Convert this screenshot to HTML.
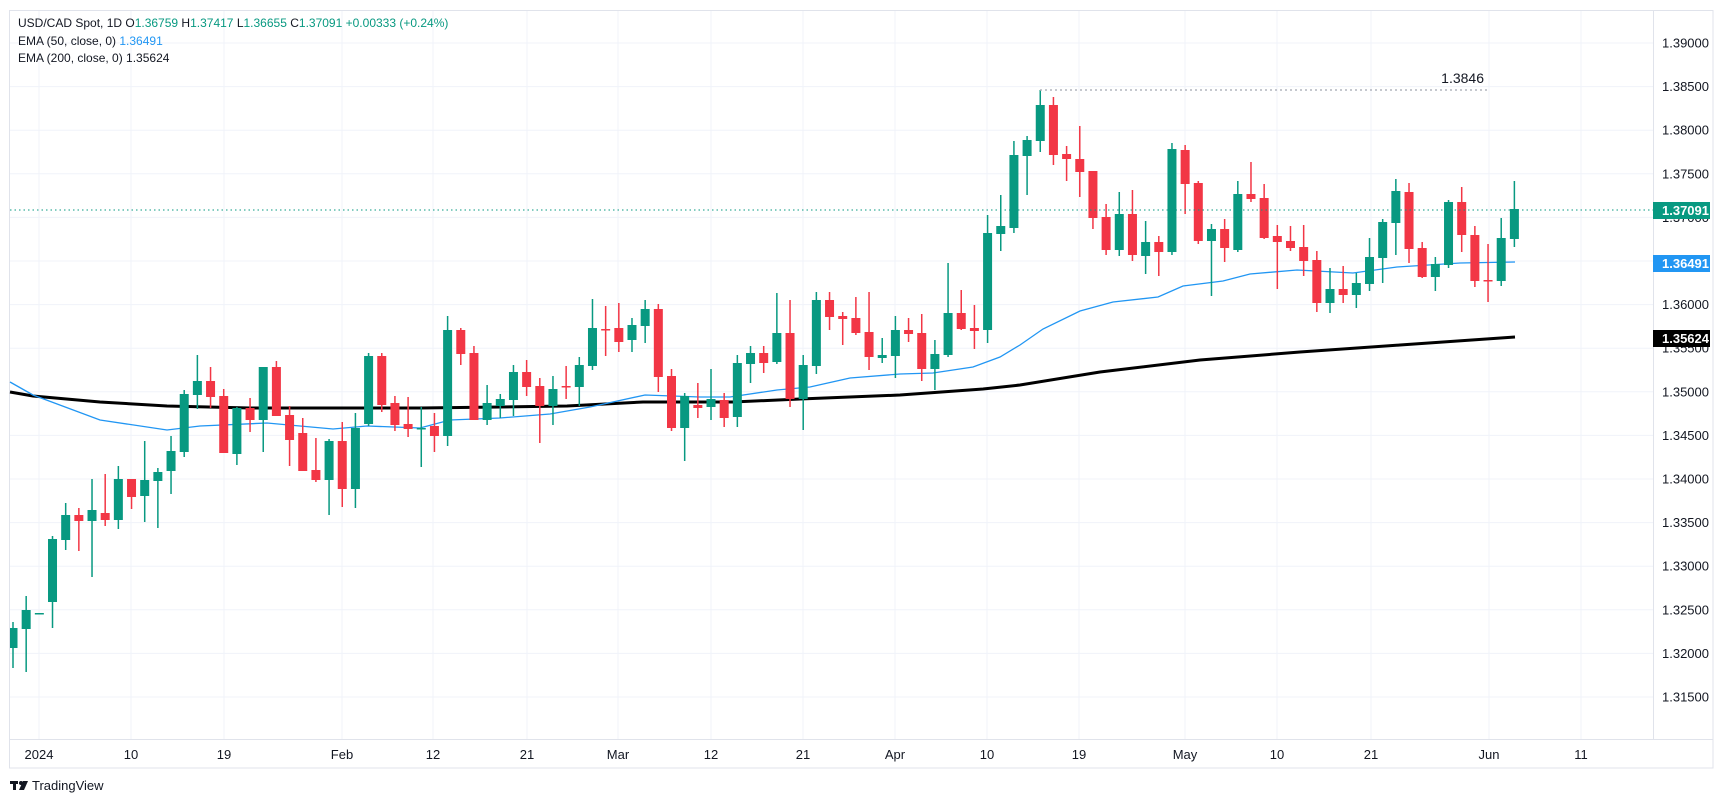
<!DOCTYPE html>
<html><head><meta charset="utf-8"><style>
html,body{margin:0;padding:0;background:#fff;width:1723px;height:801px;overflow:hidden}
svg text{font-family:"Liberation Sans",sans-serif}
</style></head><body>
<svg id="s" width="1723" height="801" xmlns="http://www.w3.org/2000/svg">
<rect x="0" y="0" width="1723" height="801" fill="#fff"/>
<g id="grid"></g>
<rect x="9.5" y="10.5" width="1703.5" height="757.5" fill="none" stroke="#e0e3eb" stroke-width="1"/>
<line x1="9.5" y1="739.5" x2="1713" y2="739.5" stroke="#e0e3eb"/>
<line x1="1653.5" y1="10" x2="1653.5" y2="740" stroke="#e0e3eb"/>
<polyline fill="none" stroke="#000" stroke-width="3" points="10,392 33,396 100,402 167,406 250,408 333,408 420,408 500,407 567,406 643,402 733,402 800,399 900,395 983,389 1020,385 1100,372 1200,360 1300,352 1400,345 1515,337"/>
<polyline fill="none" stroke="#2196f3" stroke-width="1.3" points="10,382 33,395 100,420 167,430 200,426 267,423 333,429 367,426 420,428 450,420 500,418 550,414 590,407 645,395 700,397 730,397 777,390 810,387 850,378 900,374 933,373 973,367 1000,357 1020,345 1043,329 1080,311 1113,302 1158,297 1183,286 1223,281 1250,274 1297,270 1353,273 1397,267 1460,263 1515,262"/>
<g id="c"></g>
<line x1="10" y1="210" x2="1653" y2="210" stroke="#089981" stroke-width="1" stroke-dasharray="1.5,3"/>
<line x1="1040" y1="90" x2="1487" y2="90" stroke="#b2b5be" stroke-width="1.5" stroke-dasharray="2,3"/>
<text x="1484" y="83" font-size="14" fill="#131722" text-anchor="end">1.3846</text>
<g id="ax" font-size="13" fill="#131722"></g>
<rect x="1653" y="202" width="57" height="17" fill="#089981"/>
<text x="1662" y="215" font-size="13" fill="#fff" font-weight="bold">1.37091</text>
<rect x="1653" y="255" width="57" height="17" fill="#2196f3"/>
<text x="1662" y="268" font-size="13" fill="#fff" font-weight="bold">1.36491</text>
<rect x="1653" y="330" width="57" height="17" fill="#000"/>
<text x="1662" y="343" font-size="13" fill="#fff" font-weight="bold">1.35624</text>
<text x="18" y="27" font-size="12" fill="#131722">USD/CAD Spot, 1D  O<tspan fill="#089981">1.36759</tspan>  H<tspan fill="#089981">1.37417</tspan>  L<tspan fill="#089981">1.36655</tspan>  C<tspan fill="#089981">1.37091</tspan>  <tspan fill="#089981">+0.00333 (+0.24%)</tspan></text>
<text x="18" y="45" font-size="12" fill="#131722">EMA (50, close, 0)  <tspan fill="#2196f3">1.36491</tspan></text>
<text x="18" y="62" font-size="12" fill="#131722">EMA (200, close, 0)  1.35624</text>
<g fill="#131722"><rect x="10" y="781" width="8" height="3"/><rect x="13" y="781" width="3" height="9"/><circle cx="21" cy="783" r="2"/><polygon points="23,781 28,781 24,790 19,790"/></g>
<text x="32" y="790" font-size="13" fill="#131722">TradingView</text>
</svg>
<script>
var NS="http://www.w3.org/2000/svg";
function el(p,t,a){var e=document.createElementNS(NS,t);for(var k in a)e.setAttribute(k,a[k]);p.appendChild(e);return e;}
var grid=document.getElementById('grid'),ax=document.getElementById('ax');
for(var k=0;k<=15;k++){var y=43+k*43.6;el(grid,'line',{x1:10,x2:1653,y1:y,y2:y,stroke:'#f0f3fa','stroke-width':1});
var p=(1.39-k*0.005).toFixed(5);var t=el(ax,'text',{x:1662,y:y+4.5});t.textContent=p;}
var vx=[[39,'2024'],[131,'10'],[224,'19'],[342,'Feb'],[433,'12'],[527,'21'],[618,'Mar'],[711,'12'],[803,'21'],[895,'Apr'],[987,'10'],[1079,'19'],[1185,'May'],[1277,'10'],[1371,'21'],[1489,'Jun'],[1581,'11']];
vx.forEach(function(v){el(grid,'line',{x1:v[0],x2:v[0],y1:10,y2:739,stroke:'#f0f3fa','stroke-width':1});
var t=el(ax,'text',{x:v[0],y:759,'text-anchor':'middle'});t.textContent=v[1];});
var D=[[628,648,622,668,1],[610,629,596,672,1],[613,614,613,614,1],[539,602,536,628,1],[515,540,503,550,1],[515,521,508,551,0],[510,521,479,577,1],[513,520,474,526,0],[479,520,466,529,1],[479,497,479,509,0],
[480,496,441,522,1],[472,481,468,528,1],[451,471,436,494,1],[394,452,390,457,1],[381,395,355,409,1],[381,397,367,408,0],[396,453,389,453,0],[408,454,407,465,1],[408,420,398,432,0],[367,420,367,452,1],
[367,416,361,416,0],[415,440,406,466,0],[433,471,418,471,0],[470,480,438,482,0],[441,480,439,515,1],[441,489,422,507,0],[428,489,413,508,1],[356,424,353,426,1],[356,405,353,412,0],[403,425,396,431,0],
[424,429,397,437,0],[428,429,407,467,1],[426,436,413,452,0],[330,436,316,446,1],[330,354,328,365,0],[353,420,346,420,0],[403,420,385,425,1],[399,406,394,418,1],[372,400,365,416,1],[372,387,360,396,0],
[386,406,378,443,0],[389,406,376,425,1],[386,387,366,399,0],[365,387,357,406,1],[328,366,299,370,1],[329,330,306,356,0],[328,342,303,352,0],[325,340,318,352,1],[309,326,300,343,1],[309,377,304,392,0],
[376,428,369,431,0],[396,428,393,461,1],[405,408,383,418,0],[399,407,369,420,1],[400,418,393,427,0],[363,417,355,427,1],[353,364,346,383,1],[353,363,346,373,0],[333,362,293,364,1],[333,399,300,407,0],
[365,399,355,430,1],[300,366,292,374,1],[300,317,292,330,0],[316,319,312,345,0],[318,333,297,335,0],[332,357,292,370,0],[355,358,338,363,1],[330,356,316,378,1],[330,334,318,342,0],[333,369,314,381,0],
[354,369,340,390,1],[313,355,263,357,1],[313,329,290,330,0],[328,331,305,349,0],[233,330,215,343,1],[226,234,195,251,1],[155,228,141,233,1],[140,156,136,195,1],[105,141,90,152,1],[105,155,97,165,0],
[154,159,146,181,0],[159,172,126,197,0],[171,218,171,229,0],[217,250,204,255,0],[214,250,192,256,1],[214,255,190,261,0],[242,256,221,274,1],[242,252,236,276,0],[149,252,143,255,1],[150,184,145,214,0],
[183,241,181,244,0],[229,241,224,296,1],[229,248,219,262,0],[194,250,181,252,1],[194,199,162,202,0],[198,238,184,239,0],[236,242,225,289,0],[241,248,226,251,0],[247,261,225,276,0],[260,303,251,312,0],
[289,303,268,313,1],[289,295,266,303,0],[283,295,273,308,1],[257,284,238,291,1],[222,258,219,283,1],[191,223,179,255,1],[192,249,183,263,0],[248,277,242,278,0],[264,277,257,291,1],[202,265,200,268,1],
[202,235,187,252,0],[235,281,226,287,0],[280,281,244,302,0],[238,281,218,286,1],[209,239,181,247,1]];
var cg=document.getElementById('c');
D.forEach(function(d,i){var x=13+i*13.17;var col=d[4]?'#089981':'#f23645';
el(cg,'rect',{x:(x-0.75).toFixed(2),y:d[2],width:1.5,height:Math.max(1,d[3]-d[2]),fill:col});
var x0=Math.max(10,x-4.5);el(cg,'rect',{x:x0.toFixed(2),y:d[0],width:(x+4.5-x0).toFixed(2),height:Math.max(1.5,d[1]-d[0]),fill:col});});
</script>
</body></html>
